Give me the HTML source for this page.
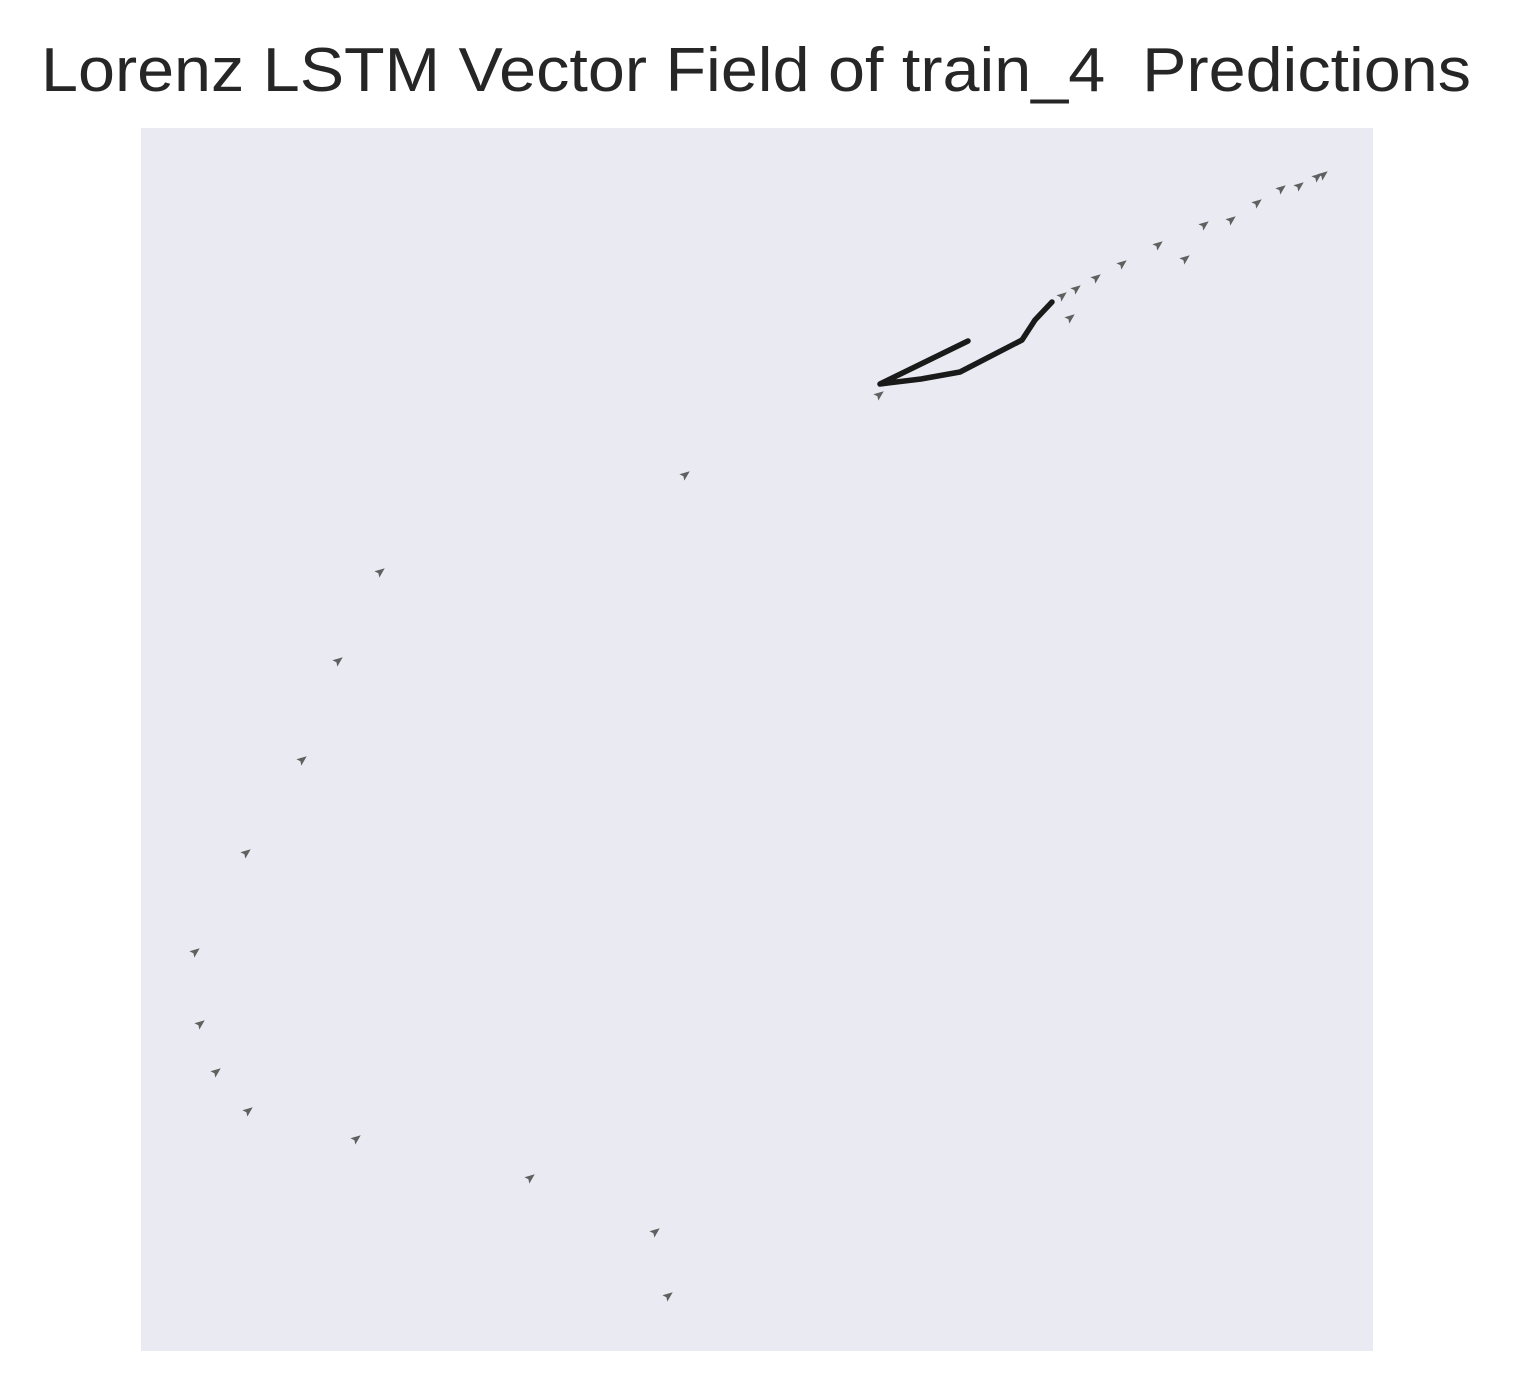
<!DOCTYPE html>
<html><head><meta charset="utf-8"><style>
body{margin:0;background:#fff;}
svg{display:block;font-family:"Liberation Sans",Arial,sans-serif;}
</style></head><body>
<svg id="chart" width="1513" height="1395" viewBox="0 0 1513 1395">
<text x="41" y="91" font-size="62" fill="#262626" style="white-space:pre" xml:space="preserve" textLength="1430" lengthAdjust="spacingAndGlyphs">Lorenz LSTM Vector Field of train_4  Predictions</text>
<rect x="141" y="128" width="1232" height="1223" fill="#eaeaf2"/>
<g id="marks"></g>
</svg>
<script>
const arrowX=[1182,1176,1158,1140,1116,1090,1063,1044,1017,981,955,935,921,929,738,544,239,197,161,105,54,59,75,107,215,389,514,527];
const arrowY=[1176,1174,1165,1162,1148,1131,1126,1092,1106,1087,1073,1062,1055,1033,956,876,779,690,591,498,399,327,279,240,212,173,119,55];
const lineX=[827,739,780,819,881,894,911];
const lineY=[1010,967,972,979,1011,1031,1049];
const X0=141,W=1232,Y0=128,H=1223,xmax=1232,ymax=1223;
function sx(v){return X0+v/xmax*W;}
function sy(v){return Y0+H-v/ymax*H;}
const g=document.getElementById('marks');
const NS='http://www.w3.org/2000/svg';
const p=document.createElementNS(NS,'polyline');


p.setAttribute('points',lineX.map((v,i)=>sx(v)+','+sy(lineY[i])).join(' '));
p.setAttribute('fill','none');p.setAttribute('stroke','#1a1a1a');p.setAttribute('stroke-width','5.5');
p.setAttribute('stroke-linejoin','round');p.setAttribute('stroke-linecap','round');
g.appendChild(p);
for(let i=0;i<arrowX.length;i++){
  const a=document.createElementNS(NS,'polygon');
  
  
  const x=sx(arrowX[i]),y=sy(arrowY[i]);
  a.setAttribute('points','6,0 -4,-4 -2,0 -4,4');
  a.setAttribute('transform','translate('+x+','+y+') rotate(-38)');
  a.setAttribute('fill','#606060');
  g.appendChild(a);
}
</script>
</body></html>
